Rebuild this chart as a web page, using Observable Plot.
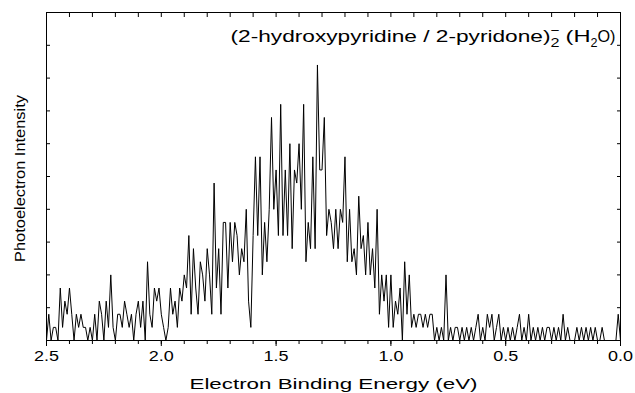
<!DOCTYPE html>
<html><head><meta charset="utf-8">
<script src="https://cdn.jsdelivr.net/npm/d3@7"></script>
<script src="https://cdn.jsdelivr.net/npm/@observablehq/plot@0.6"></script>
<style>body{margin:0;background:#fff} #chart svg{display:block}</style>
</head><body><div id="chart"></div>
<script>
// Photoelectron counts, sampled every 0.01 eV from 2.50 eV down to 0.00 eV
const energyStart = 2.5;
const energyStep = 0.01;
const counts = [
  0,2,0,1,1,0,4,1,3,2,
  4,2,0,2,1,2,1,1,0,1,
  0,2,0,3,2,0,3,1,5,1,
  0,2,2,1,3,2,1,2,0,2,
  3,1,3,0,6,2,1,4,3,4,
  2,1,0,1,4,2,3,1,4,3,
  5,4,8,2,7,4,2,6,5,3,
  7,5,2,12,4,7,2,9,9,4,
  9,6,9,8,5,7,6,10,3,1,
  8,14,8,14,5,9,6,10,17,10,
  13,8,18,8,13,8,15,7,13,12,
  15,10,18,6,9,7,14,7,21,13,
  13,17,8,10,9,7,10,7,10,9,
  14,6,10,6,7,5,11,7,8,5,
  9,5,7,4,10,2,5,3,5,1,
  5,1,3,2,4,0,6,2,5,1,
  2,1,2,2,1,2,1,2,2,0,
  1,0,1,0,5,0,1,0,1,1,
  0,1,0,1,0,1,0,1,2,0,
  1,0,2,1,2,0,1,2,0,1,
  0,1,0,1,0,1,2,0,1,0,
  2,0,1,0,1,0,1,0,1,1,
  0,1,0,1,0,2,0,1,0,0,
  0,1,0,1,0,1,0,1,0,1,
  0,0,1,0,0,0,0,0,0,2,
  0
];
const xMajorTicks = [2.5, 2.0, 1.5, 1.0, 0.5, 0.0];
const xMinorTicks = [2.5,2.4,2.3,2.2,2.1,2.0,1.9,1.8,1.7,1.6,1.5,1.4,1.3,1.2,1.1,1.0,0.9,0.8,0.7,0.6,0.5,0.4,0.3,0.2,0.1,0.0];
const yTicks = [2.5, 5, 7.5, 10, 12.5, 15, 17.5, 20, 22.5];
const xLabel = "Electron Binding Energy (eV)";
const yLabel = "Photoelectron Intensity";
const titleMain = "(2-hydroxypyridine / 2-pyridone)";

const data = counts.map((c, i) => ({energy: energyStart - i * energyStep, count: c}));

const chart = Plot.plot({
  width: 635,
  height: 393,
  marginLeft: 46,
  marginRight: 15,
  marginTop: 12,
  marginBottom: 53,
  x: {domain: [2.5, 0]},
  y: {domain: [0, 25]},
  style: {fontFamily: "'Liberation Sans', Arial, sans-serif", fontSize: "15px", color: "#000", background: "#fff"},
  marks: [
    Plot.axisX({ticks: xMinorTicks, anchor: "bottom", tickSize: 4, text: null, label: null}),
    Plot.axisX({ticks: xMajorTicks, anchor: "bottom", tickSize: 6, tickPadding: 5, tickFormat: d3.format(".1f"),
      label: xLabel, labelAnchor: "center", labelOffset: 48, labelArrow: "none", fontSize: 14}),
    Plot.axisX({ticks: xMinorTicks, anchor: "top", tickSize: -4, text: null, label: null}),
    Plot.axisY({ticks: yTicks, anchor: "left", tickSize: -4, text: null, label: null}),
    Plot.axisY({ticks: yTicks, anchor: "right", tickSize: -4, text: null, label: null}),
    Plot.frame({stroke: "#000", strokeWidth: 1}),
    Plot.line(data, {x: "energy", y: "count", stroke: "#000", strokeWidth: 1}),
    Plot.text([yLabel], {frameAnchor: "left", rotate: -90, dx: -26, dy: 2, text: d => d, fontSize: 15,
      textAnchor: "middle", className: "y-title"}),
    Plot.text([titleMain], {frameAnchor: "top-right", dx: -5, dy: 24, text: d => d, fontSize: 17, textAnchor: "end", lineAnchor: "middle", className: "chart-title"})
  ]
});
document.getElementById("chart").appendChild(chart);

const svg = d3.select(chart);
// the reference figure's lettering is horizontally stretched
svg.selectAll('g[aria-label="x-axis tick label"] text')
  .attr("textLength", 25).attr("lengthAdjust", "spacingAndGlyphs");
svg.selectAll('g[aria-label="x-axis label"] text')
  .attr("font-size", 15).attr("textLength", 288).attr("lengthAdjust", "spacingAndGlyphs");
svg.selectAll('.y-title text')
  .attr("textLength", 167).attr("lengthAdjust", "spacingAndGlyphs");

// rebuild the title with sub/superscripts
const t = svg.select(".chart-title text");
if (!t.empty()) {
  t.text(null);
  t.append("tspan").attr("textLength", 320).attr("lengthAdjust", "spacingAndGlyphs").text(titleMain);
  t.append("tspan").attr("dy", 5).attr("font-size", 12).attr("textLength", 9).attr("lengthAdjust", "spacingAndGlyphs").text("2");
  t.append("tspan").attr("dx", -9).attr("dy", -12).attr("font-size", 13).attr("textLength", 9).attr("lengthAdjust", "spacingAndGlyphs").text("\u2212");
  t.append("tspan").attr("dx", 6).attr("dy", 7).attr("textLength", 25).attr("lengthAdjust", "spacingAndGlyphs").text("(H");
  t.append("tspan").attr("dy", 5).attr("font-size", 12).attr("textLength", 7).attr("lengthAdjust", "spacingAndGlyphs").text("2");
  t.append("tspan").attr("dy", -5).attr("textLength", 18).attr("lengthAdjust", "spacingAndGlyphs").text("O)");
}
</script>
</body></html>
